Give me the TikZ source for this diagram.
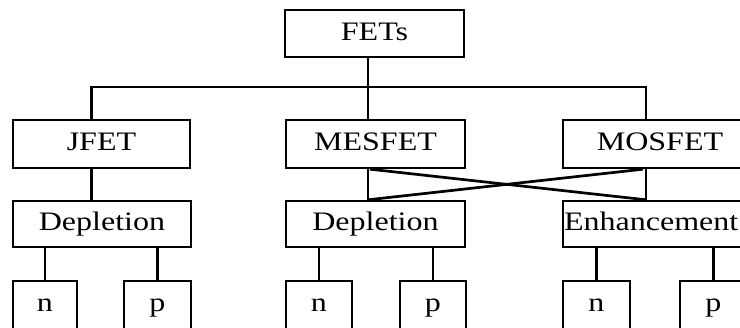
\documentclass[tikz,border=0pt]{standalone}
\usepackage{fontspec}
\setmainfont{Liberation Serif}[FakeStretch=1.2]
\begin{document}
\begin{tikzpicture}[x=1pt,y=-1pt,
  box/.style={draw, line width=2.4pt, rectangle, inner sep=0pt,
    text height=20pt, text depth=6pt,
    font=\fontsize{26.7}{30}\selectfont},
  wire/.style={line width=2.1pt},
  cross/.style={line width=2.7pt}]
\useasboundingbox (0,0) rectangle (740,328);
\clip (0,0) rectangle (740,328);

% top level
\node[box, minimum width=179, minimum height=47] (fets) at (374.5,33.5) {FETs};

% device families
\node[box, minimum width=177, minimum height=48] (jfet)   at (101.5,144) {JFET};
\node[box, minimum width=179, minimum height=48] (mesfet) at (375.5,144) {MESFET};
\node[box, minimum width=194, minimum height=48] (mosfet) at (660,144)   {MOSFET};

% operating modes
\node[box, minimum width=178, minimum height=46] (depl1) at (102,224)   {Depletion};
\node[box, minimum width=179, minimum height=46] (depl2) at (375.5,224) {Depletion};
\node[box, minimum width=194, minimum height=46, text width=192, align=left] (enh) at (660,224) {Enhancement};

% channel types
\node[box, minimum width=64, minimum height=48] (n1) at (45,305)    {n};
\node[box, minimum width=67, minimum height=48] (p1) at (157.5,305) {p};
\node[box, minimum width=66, minimum height=48] (n2) at (319,305)   {n};
\node[box, minimum width=66, minimum height=48] (p2) at (433,305)   {p};
\node[box, minimum width=67, minimum height=48] (n3) at (596.5,305) {n};
\node[box, minimum width=67, minimum height=48] (p3) at (713.5,305) {p};

% tree connectors
\draw[wire] ([xshift=-6.5]fets.south) -- ([xshift=-7.5]mesfet.north);
\draw[wire] ([xshift=-10]jfet.north) -- ++(0,-32) -| ([xshift=-14]mosfet.north);
\draw[wire] ([xshift=-10]jfet.south) -- ([xshift=-10.5]depl1.north);
\draw[wire] ([xshift=-7.5]mesfet.south) -- ([xshift=-7.5]depl2.north);
\draw[wire] ([xshift=-14]mosfet.south) -- ([xshift=-14]enh.north);

% crossed links between MESFET/MOSFET and the modes
\draw[cross] ([xshift=-5.5]mesfet.south) -- ([xshift=-14]enh.north);
\draw[cross] ([xshift=-7.5]depl2.north) -- ([xshift=-17]mosfet.south);

% mode to channel
\draw[wire] (n1.north |- depl1.south) -- (n1.north);
\draw[wire] (p1.north |- depl1.south) -- (p1.north);
\draw[wire] (n2.north |- depl2.south) -- (n2.north);
\draw[wire] (p2.north |- depl2.south) -- (p2.north);
\draw[wire] (n3.north |- enh.south) -- (n3.north);
\draw[wire] (p3.north |- enh.south) -- (p3.north);
\end{tikzpicture}
\end{document}
